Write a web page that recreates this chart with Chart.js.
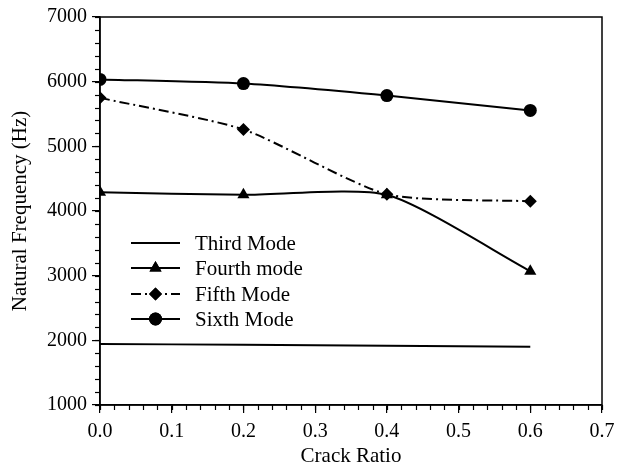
<!DOCTYPE html>
<html><head><meta charset="utf-8">
<script src="https://cdn.jsdelivr.net/npm/chart.js@4/dist/chart.umd.min.js"></script>
<style>html,body{margin:0;padding:0;background:#fff}#wrap{width:623px;height:473px}</style>
</head><body><div id="wrap"><canvas id="c" width="623" height="473"></canvas></div>
<script>
const crackRatio = [0.0, 0.2, 0.4, 0.6];
const thirdMode  = [1945, 1930, 1915, 1900];
const fourthMode = [4290, 4250, 4250, 3070];
const fifthMode  = [5750, 5260, 4260, 4150];
const sixthMode  = [6035, 5970, 5785, 5555];
const seriesNames = ['Third Mode', 'Fourth mode', 'Fifth Mode', 'Sixth Mode'];
const xTicks = [0.0, 0.1, 0.2, 0.3, 0.4, 0.5, 0.6, 0.7];
const yTicks = [1000, 2000, 3000, 4000, 5000, 6000, 7000];

const FONT = "'Liberation Serif', 'Times New Roman', serif";
const pts = arr => crackRatio.map((x, i) => ({x, y: arr[i]}));

const styles = [
  {pointStyle: false, radius: 0, dash: []},
  {pointStyle: 'triangle', radius: 7, dash: []},
  {pointStyle: 'rectRot', radius: 6.5, dash: [10, 4, 2, 4]},
  {pointStyle: 'circle', radius: 6.5, dash: []}
];
const datasets = [thirdMode, fourthMode, fifthMode, sixthMode].map((arr, i) => ({
  label: seriesNames[i],
  data: pts(arr),
  borderColor: '#000',
  backgroundColor: '#000',
  borderWidth: 2,
  borderDash: styles[i].dash,
  pointStyle: styles[i].pointStyle,
  pointRadius: styles[i].radius,
  pointBorderWidth: 0,
  tension: 0.22,
  fill: false
}));

const framePlugin = {
  id: 'frame',
  afterDraw(chart) {
    const {ctx, chartArea: a, scales} = chart;
    ctx.save();
    ctx.strokeStyle = '#000';
    ctx.lineWidth = 1.5;
    ctx.strokeRect(a.left, a.top, a.right - a.left, a.bottom - a.top);
    ctx.lineWidth = 1.2;
    for (let v = 0; v <= 0.7001; v += 0.02) {
      const px = Math.round(scales.x.getPixelForValue(v)) + 0.5;
      ctx.beginPath(); ctx.moveTo(px, a.bottom); ctx.lineTo(px, a.bottom + 5); ctx.stroke();
    }
    for (let v = 1000; v <= 7000; v += 200) {
      const py = Math.round(scales.y.getPixelForValue(v)) + 0.5;
      ctx.beginPath(); ctx.moveTo(a.left, py); ctx.lineTo(a.left - 5, py); ctx.stroke();
    }
    const x0 = 131, x1 = 180, tx = 195;
    const rows = [243, 268, 294, 319];
    ctx.font = '21px ' + FONT;
    ctx.textBaseline = 'middle';
    ctx.fillStyle = '#000';
    datasets.forEach((ds, i) => {
      const y = rows[i];
      ctx.lineWidth = 2;
      ctx.setLineDash(ds.borderDash);
      ctx.beginPath(); ctx.moveTo(x0, y); ctx.lineTo(x1, y); ctx.stroke();
      ctx.setLineDash([]);
      if (ds.pointStyle) {
        Chart.helpers.drawPoint(ctx, {pointStyle: ds.pointStyle, radius: ds.pointRadius, borderWidth: 0}, (x0 + x1) / 2, y);
        ctx.fill();
      }
      ctx.fillText(ds.label, tx, y + 1);
    });
    ctx.restore();
  }
};

new Chart(document.getElementById('c'), {
  type: 'line',
  data: {datasets},
  plugins: [framePlugin],
  options: {
    responsive: false,
    animation: false,
    layout: {padding: {top: 17, right: 21, left: 0, bottom: 4}},
    plugins: {legend: {display: false}, tooltip: {enabled: false}},
    scales: {
      x: {
        type: 'linear', min: 0, max: 0.7,
        afterBuildTicks: s => { s.ticks = xTicks.map(v => ({value: v})); },
        afterFit: s => { s.height = 64; },
        grid: {drawOnChartArea: false, tickLength: 8, color: '#000', lineWidth: 1.2},
        border: {color: '#000', width: 1.5},
        ticks: {color: '#000', font: {family: FONT, size: 20}, padding: 7, maxRotation: 0,
                callback: v => Number(v).toFixed(1)},
        title: {display: true, text: 'Crack Ratio', color: '#000', font: {family: FONT, size: 21}, padding: {top: 0, bottom: 0}}
      },
      y: {
        min: 1000, max: 7000,
        afterBuildTicks: s => { s.ticks = yTicks.map(v => ({value: v})); },
        afterFit: s => { s.width = 100; },
        grid: {drawOnChartArea: false, tickLength: 8, color: '#000', lineWidth: 1.2},
        border: {color: '#000', width: 1.5},
        ticks: {color: '#000', font: {family: FONT, size: 20}, padding: 5, callback: v => String(v)},
        title: {display: true, text: 'Natural Frequency (Hz)', color: '#000', font: {family: FONT, size: 21}, padding: {top: 8, bottom: 0}}
      }
    }
  }
});
</script></body></html>
